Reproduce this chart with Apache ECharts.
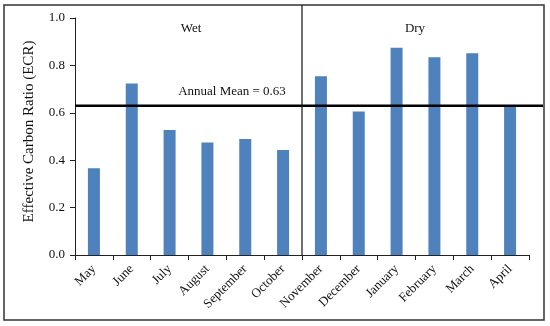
<!DOCTYPE html>
<html>
<head>
<meta charset="utf-8">
<script src="https://cdn.jsdelivr.net/npm/echarts@6/dist/echarts.min.js"></script>
<style>html,body{margin:0;padding:0;background:#fff}#c{width:550px;height:326px}</style>
</head>
<body>
<div id="c"></div>
<script>
const months = ['May','June','July','August','September','October','November','December','January','February','March','April'];
const ecr = [0.366, 0.724, 0.527, 0.475, 0.489, 0.443, 0.754, 0.606, 0.875, 0.834, 0.851, 0.633];
const yTicks = [0, 0.2, 0.4, 0.6, 0.8, 1.0];
const annualMean = 0.63;
const seasonSplit = 6;
const seasonLabels = ['Wet', 'Dry'];

const font = '"Liberation Serif", "Times New Roman", serif';
const chart = echarts.init(document.getElementById('c'));
chart.setOption({
  animation: false,
  grid: [
    {left: 75, right: 21, top: 18, bottom: 71},
    {left: 75, right: 7, top: 18, bottom: 71},
    {left: 75, right: 21, top: 5, bottom: 71}
  ],
  xAxis: [
    {type: 'category', gridIndex: 0, data: months,
     axisLine: {lineStyle: {color: '#222', width: 1}},
     axisTick: {show: true, length: 5, lineStyle: {color: '#222'}},
     axisLabel: {rotate: 45, fontFamily: font, fontSize: 13, color: '#111', margin: 12}},
    {type: 'value', gridIndex: 1, min: 0, max: 1, show: false},
    {type: 'value', gridIndex: 2, min: 0, max: months.length, show: false}
  ],
  yAxis: [
    {type: 'value', gridIndex: 0, min: yTicks[0], max: yTicks[yTicks.length-1], interval: 0.2,
     name: 'Effective Carbon Ratio (ECR)', nameLocation: 'middle', nameGap: 38,
     nameTextStyle: {fontFamily: font, fontSize: 15, color: '#111', padding: [0, 0, 0, 10]},
     axisLine: {show: true, lineStyle: {color: '#222', width: 1}},
     axisTick: {show: true, length: 5, lineStyle: {color: '#222'}},
     splitLine: {show: false},
     axisLabel: {fontFamily: font, fontSize: 13, color: '#111', margin: 10,
                 formatter: v => v.toFixed(1)}},
    {type: 'value', gridIndex: 1, min: 0, max: 1, show: false},
    {type: 'value', gridIndex: 2, min: 0, max: 1, show: false}
  ],
  series: [
    {type: 'bar', xAxisIndex: 0, yAxisIndex: 0, data: ecr, barWidth: 12,
     itemStyle: {color: '#4F81BD'}},
    {type: 'line', xAxisIndex: 1, yAxisIndex: 1, data: [[0, annualMean], [1, annualMean]],
     symbol: 'none', lineStyle: {color: '#000', width: 2.5}},
    {type: 'line', xAxisIndex: 2, yAxisIndex: 2, data: [[seasonSplit, 0], [seasonSplit, 1]],
     symbol: 'none', lineStyle: {color: '#111', width: 1.2}}
  ],
  graphic: [
    {type: 'rect', shape: {x: 4, y: 5, width: 540, height: 315},
     style: {fill: null, stroke: '#333', lineWidth: 1.5}, silent: true},
    {type: 'text', x: 191, y: 29, style: {text: seasonLabels[0], font: '13px ' + font, fill: '#111', textAlign: 'center', textVerticalAlign: 'middle'}},
    {type: 'text', x: 415, y: 29, style: {text: seasonLabels[1], font: '13px ' + font, fill: '#111', textAlign: 'center', textVerticalAlign: 'middle'}},
    {type: 'text', x: 232, y: 92, style: {text: 'Annual Mean = ' + annualMean.toFixed(2), font: '13px ' + font, fill: '#111', textAlign: 'center', textVerticalAlign: 'middle'}}
  ]
});
</script>
</body>
</html>
